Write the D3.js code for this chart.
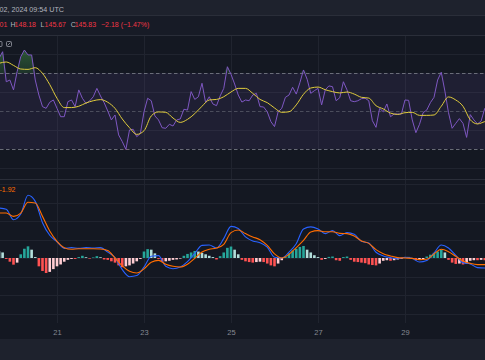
<!DOCTYPE html>
<html><head><meta charset="utf-8">
<script src="https://cdn.jsdelivr.net/npm/d3@7"></script>
<style>
html,body{margin:0;padding:0;background:#141822;overflow:hidden;}
svg{display:block;}
text{font-family:"Liberation Sans",Arial,sans-serif;}
</style></head><body>
<svg id="chart" width="485" height="360"></svg>
<script>
// ---------- data ----------
const startTime = new Date(Date.UTC(2024, 0, 19, 16)); // first bar
const stepFineHours = 2;   // rsi + histogram
const stepCoarseHours = 4; // rsi MA, macd, signal
const dateText = "02, 2024 09:54 UTC";
const ohlcLabels = ["", "H", "L", "C", ""];
const ohlcValues = ["01", "148.18", "145.67", "145.83", "\u22122.18 (\u22121.47%)"];
const macdLegendValue = "-1.92";
const xTickDays = [21, 23, 25, 27, 29];
const xTickLabels = ["21", "23", "25", "27", "29"];
const rsiGridValues = [80, 60, 40, 20];
const rsiBands = [70, 50, 30];
const macdGridValues = [4, 3, 2, 1, 0, -1, -2, -3];

const rsi = [
  77.7, 81.2, 65.4, 66.3, 61.1, 70.7, 78.6, 82.1, 79.5, 79.5,
  66.3, 58.4, 52.3, 51.4, 54.6, 55.8, 51.4, 47.0, 47.0, 54.9,
  55.8, 52.3, 61.1, 56.7, 54.0, 55.3, 57.5, 61.9, 57.9, 54.4,
  50.0, 45.3, 47.9, 37.4, 33.9, 29.8, 40.0, 40.4, 36.5, 38.2,
  49.6, 56.7, 55.4, 47.4, 45.3, 41.2, 40.9, 43.0, 42.1, 45.3,
  45.8, 50.9, 50.5, 60.2, 56.1, 57.5, 64.6, 54.4, 57.5, 53.7,
  52.8, 57.9, 61.9, 73.3, 69.3, 64.2, 58.4, 54.7, 55.8, 55.4,
  58.4, 59.3, 52.3, 52.1, 49.6, 44.4, 41.8, 49.6, 51.4, 57.2,
  58.4, 62.5, 58.9, 64.9, 71.6, 66.7, 59.3, 60.7, 61.9, 53.2,
  61.1, 63.2, 62.8, 55.4, 57.0, 65.4, 61.1, 55.4, 54.9, 55.4,
  56.5, 56.7, 55.4, 44.9, 41.4, 51.4, 49.6, 53.7, 47.0, 48.4,
  48.4, 48.4, 55.8, 55.6, 45.3, 38.6, 43.0, 49.1, 50.5, 54.4,
  57.2, 66.3, 70.4, 60.5, 49.1, 40.9, 43.5, 46.0, 43.5, 36.1,
  48.1, 45.3, 43.2, 44.7, 51.4, 52.3
];
const rsiMA = [
  75.1, 75.8, 74.0, 72.1, 71.9, 72.8, 69.8, 63.9, 56.7, 51.8,
  51.8, 52.5, 54.2, 55.4, 56.0, 54.6, 51.4, 45.8, 41.2, 37.7,
  39.6, 47.4, 49.5, 49.3, 46.3, 44.0, 45.6, 48.6, 52.5, 55.8,
  56.1, 57.5, 60.0, 61.9, 61.9, 59.3, 56.1, 54.4, 51.6, 49.3,
  49.6, 53.2, 58.8, 62.1, 62.6, 61.2, 60.2, 59.5, 60.0, 58.9,
  57.2, 56.8, 52.8, 51.1, 48.9, 48.2, 49.1, 49.3, 47.7, 47.7,
  47.9, 52.5, 57.4, 55.8, 52.5, 45.4, 43.2, 44.4, 45.3
];
const macd = [
  2.70, 2.63, 2.07, 2.38, 3.39, 3.06, 1.91, 1.23, 0.88, 0.52,
  0.56, 0.52, 0.56, 0.54, 0.56, 0.32, 0.02, -0.63, -1.01, -0.95,
  -0.49, 0.09, 0.13, -0.45, -0.58, -0.49, -0.20, 0.25, 0.68, 0.70,
  0.54, 1.05, 1.71, 1.59, 1.14, 0.92, 0.83, 0.59, 0.04, 0.00,
  0.32, 0.77, 1.57, 1.68, 1.57, 1.32, 1.48, 1.21, 1.37, 1.28,
  0.90, 0.81, 0.31, 0.11, 0.02, -0.04, 0.04, -0.02, -0.22, -0.14,
  0.27, 0.70, 0.54, 0.14, -0.25, -0.32, -0.52, -0.54, -0.54
];
const signal = [
  2.43, 2.43, 2.25, 2.43, 3.01, 2.97, 2.25, 1.46, 0.90, 0.56,
  0.47, 0.50, 0.50, 0.50, 0.49, 0.40, 0.00, -0.43, -0.72, -0.81,
  -0.59, -0.23, -0.13, -0.34, -0.45, -0.49, -0.34, -0.02, 0.32, 0.47,
  0.54, 0.74, 1.37, 1.51, 1.32, 1.14, 0.99, 0.68, 0.22, 0.00,
  0.20, 0.56, 0.95, 1.41, 1.48, 1.42, 1.42, 1.33, 1.32, 1.19,
  0.92, 0.79, 0.45, 0.23, 0.11, 0.02, 0.00, -0.02, -0.09, -0.07,
  0.22, 0.47, 0.34, 0.09, -0.16, -0.29, -0.36, -0.36, -0.36
];
const hist = [
  0.36, 0.30, -0.05, -0.20, -0.36, -0.25, 0.20, 0.50, 0.63, 0.45,
  0.05, -0.45, -0.70, -0.81, -0.75, -0.60, -0.45, -0.35, -0.20, -0.10,
  -0.05, -0.05, 0.05, 0.12, 0.04, -0.03, 0.03, 0.10, 0.04, -0.08,
  -0.10, -0.18, -0.25, -0.40, -0.50, -0.45, -0.40, -0.30, -0.18, -0.05,
  0.35, 0.48, 0.45, 0.25, -0.05, -0.20, -0.18, -0.15, -0.10, -0.08,
  -0.02, 0.12, 0.22, 0.30, 0.38, 0.35, 0.28, 0.20, 0.12, 0.05,
  -0.08, 0.10, 0.30, 0.55, 0.62, 0.45, 0.20, -0.10, -0.18, -0.22,
  -0.25, -0.22, -0.20, -0.22, -0.30, -0.40, -0.45, -0.30, -0.12, 0.05,
  0.25, 0.40, 0.50, 0.60, 0.65, 0.45, 0.30, 0.15, 0.05, -0.10,
  -0.05, 0.06, 0.08, -0.12, -0.15, 0.05, 0.08, -0.10, -0.20, -0.22,
  -0.25, -0.28, -0.35, -0.38, -0.40, -0.30, -0.15, -0.12, -0.15, -0.12,
  -0.08, -0.05, 0.05, 0.06, -0.05, -0.12, -0.10, -0.06, 0.08, 0.18,
  0.28, 0.35, 0.45, 0.30, -0.10, -0.25, -0.32, -0.30, -0.35, -0.30,
  -0.15, -0.12, -0.12, -0.10, -0.12, -0.10
];

// ---------- layout ----------
const W = 485, H = 360;
const rsiTop = 35, rsiBottom = 179, macdTop = 179, macdBottom = 323;
const C = {
  bg: "#141822", header: "#1e222d", legendRow: "#171b26", footer: "#1e222d",
  sep: "#2a2e39", grid: "#20242f", text: "#b2b5be", red: "#f23645",
  axis: "#868993", rsi: "#7e57c2", ma: "#e0cc3c", macd: "#2962ff", sig: "#ff6d00"
};

const fine = rsi.map((v, i) => d3.utcHour.offset(startTime, i * stepFineHours));
const coarse = rsiMA.map((v, i) => d3.utcHour.offset(startTime, i * stepCoarseHours));
const tickDates = xTickDays.map(d => new Date(Date.UTC(2024, 0, d)));

const x = d3.scaleUtc()
  .domain([new Date(Date.UTC(2024, 0, 21)), new Date(Date.UTC(2024, 0, 29))])
  .range([57, 405]);
const yR = d3.scaleLinear().domain([30, 70]).range([149, 73]);
const yM = d3.scaleLinear().domain([-1, 1]).range([276.5, 239.5]);
const crisp = v => Math.round(v) + 0.5;

const svg = d3.select("#chart");
const defs = svg.append("defs");
defs.append("clipPath").attr("id", "clipR").append("rect")
  .attr("x", 0).attr("y", rsiTop).attr("width", W).attr("height", rsiBottom - rsiTop);
defs.append("clipPath").attr("id", "clipM").append("rect")
  .attr("x", 0).attr("y", macdTop).attr("width", W).attr("height", macdBottom - macdTop);
const grad = defs.append("linearGradient").attr("id", "obGrad")
  .attr("gradientUnits", "userSpaceOnUse").attr("x1", 0).attr("x2", 0)
  .attr("y1", yR(90)).attr("y2", yR(70));
grad.append("stop").attr("offset", 0).attr("stop-color", "rgb(76,175,80)").attr("stop-opacity", 0.55);
grad.append("stop").attr("offset", 1).attr("stop-color", "rgb(76,175,80)").attr("stop-opacity", 0.18);

// backgrounds
svg.append("rect").attr("width", W).attr("height", H).attr("fill", C.bg);
svg.append("rect").attr("width", W).attr("height", 15).attr("fill", C.header);
svg.append("rect").attr("y", 15).attr("width", W).attr("height", 20).attr("fill", C.legendRow);
svg.append("rect").attr("y", 339).attr("width", W).attr("height", 21).attr("fill", C.footer);

// vertical grid
svg.append("g").selectAll("line").data(tickDates).join("line")
  .attr("x1", d => crisp(x(d))).attr("x2", d => crisp(x(d)))
  .attr("y1", rsiTop).attr("y2", macdBottom)
  .attr("stroke", C.grid).attr("stroke-width", 1);

// RSI horizontal grid
svg.append("g").selectAll("line").data(rsiGridValues).join("line")
  .attr("x1", 0).attr("x2", W)
  .attr("y1", d => crisp(yR(d))).attr("y2", d => crisp(yR(d)))
  .attr("stroke", C.grid);
// MACD horizontal grid
svg.append("g").selectAll("line").data(macdGridValues).join("line")
  .attr("x1", 0).attr("x2", W)
  .attr("y1", d => crisp(yM(d))).attr("y2", d => crisp(yM(d)))
  .attr("stroke", C.grid);

// separators
[15, 35, 179].forEach(yy => svg.append("line").attr("x1", 0).attr("x2", W)
  .attr("y1", yy + 0.5).attr("y2", yy + 0.5).attr("stroke", C.sep));

// RSI pane
const gR = svg.append("g").attr("clip-path", "url(#clipR)");
gR.append("rect").attr("x", 0).attr("width", W)
  .attr("y", yR(70)).attr("height", yR(30) - yR(70))
  .attr("fill", "rgba(126,87,194,0.11)");
gR.selectAll("line.band").data(rsiBands).join("line").attr("class", "band")
  .attr("x1", 0).attr("x2", W)
  .attr("y1", d => crisp(yR(d))).attr("y2", d => crisp(yR(d)))
  .attr("stroke", "#787b86").attr("stroke-opacity", d => d === 50 ? 0.5 : 0.85)
  .attr("stroke-dasharray", "3.5,2.5");

const rsiPts = rsi.map((v, i) => ({ t: fine[i], v }));
gR.append("path").datum(rsiPts)
  .attr("d", d3.area().x(d => x(d.t)).y0(yR(70)).y1(d => yR(Math.max(70, d.v))))
  .attr("fill", "url(#obGrad)");
gR.append("path").datum(rsiPts)
  .attr("d", d3.area().x(d => x(d.t)).y0(yR(30)).y1(d => yR(Math.min(30, d.v))))
  .attr("fill", "rgba(242,54,69,0.3)");
gR.append("path").datum(rsiPts)
  .attr("d", d3.line().x(d => x(d.t)).y(d => yR(d.v)))
  .attr("fill", "none").attr("stroke", C.rsi).attr("stroke-width", 1).attr("stroke-linejoin", "round");
gR.append("path").datum(rsiMA.map((v, i) => ({ t: coarse[i], v })))
  .attr("d", d3.line().x(d => x(d.t)).y(d => yR(d.v)).curve(d3.curveMonotoneX))
  .attr("fill", "none").attr("stroke", C.ma).attr("stroke-width", 1);

// legend icons (cut off at left)
const ic = svg.append("g").attr("stroke", "#8a8d97").attr("fill", "none").attr("stroke-width", 0.9);
ic.append("rect").attr("x", -3).attr("y", 41.5).attr("width", 5).attr("height", 5).attr("rx", 1);
ic.append("rect").attr("x", 6.5).attr("y", 41.5).attr("width", 5).attr("height", 5).attr("rx", 1);
ic.append("line").attr("x1", 7.5).attr("y1", 45.5).attr("x2", 10.5).attr("y2", 42.5);

// MACD pane
const gM = svg.append("g").attr("clip-path", "url(#clipM)");
const bw = 2.6;
gM.selectAll("rect.h").data(hist.map((v, i) => ({ t: fine[i], v, p: i > 0 ? hist[i - 1] : v })))
  .join("rect").attr("class", "h")
  .attr("x", d => x(d.t) - bw / 2).attr("width", bw)
  .attr("y", d => Math.min(yM(0), yM(d.v)))
  .attr("height", d => Math.max(0.6, Math.abs(yM(d.v) - yM(0))))
  .attr("fill", d => d.v >= 0 ? (d.v > d.p ? "#26a69a" : "#b2dfdb") : (d.v > d.p ? "#ffcdd2" : "#ff5252"));
gM.append("path").datum(macd.map((v, i) => ({ t: coarse[i], v })))
  .attr("d", d3.line().x(d => x(d.t)).y(d => yM(d.v)).curve(d3.curveMonotoneX))
  .attr("fill", "none").attr("stroke", C.macd).attr("stroke-width", 1.1);
gM.append("path").datum(signal.map((v, i) => ({ t: coarse[i], v })))
  .attr("d", d3.line().x(d => x(d.t)).y(d => yM(d.v)).curve(d3.curveMonotoneX))
  .attr("fill", "none").attr("stroke", C.sig).attr("stroke-width", 1.1);

// texts
svg.append("text").attr("x", -0.5).attr("y", 11.5).attr("font-size", "7px")
  .attr("textLength", 64.5).attr("lengthAdjust", "spacingAndGlyphs")
  .attr("fill", C.text).text(dateText);
const ohlcX = [[null, -0.5], [10.6, 14.6], [40.6, 44.6], [70.8, 74.7], [null, 101]];
const og = svg.append("g").attr("font-size", "7px");
ohlcLabels.forEach((lab, i) => {
  if (lab) og.append("text").attr("x", ohlcX[i][0]).attr("y", 27).attr("fill", C.text).text(lab);
  og.append("text").attr("x", ohlcX[i][1]).attr("y", 27).attr("fill", C.red).text(ohlcValues[i]);
});
svg.append("text").attr("x", -0.5).attr("y", 192).attr("font-size", "7px")
  .attr("fill", C.sig).text(macdLegendValue);

// x axis
const gx = svg.append("g").attr("transform", "translate(0,329.6)")
  .call(d3.axisBottom(x).tickValues(tickDates).tickFormat((d, i) => xTickLabels[i]).tickSize(0).tickPadding(0));
gx.select(".domain").remove();
gx.selectAll("text").attr("fill", C.axis).attr("font-size", "7.5px")
  .attr("font-family", "Liberation Sans, Arial, sans-serif");
</script>
</body></html>
